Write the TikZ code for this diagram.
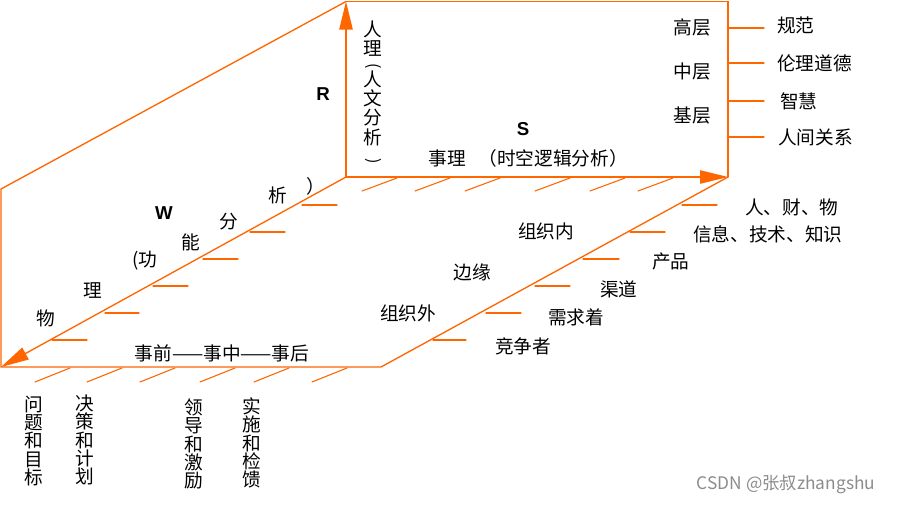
\documentclass[tikz,border=0pt]{standalone}
\usepackage{fontspec}
\setmainfont{Noto Sans CJK SC}
\newfontfamily\axisfont{Liberation Sans}
\usetikzlibrary{arrows.meta}
\definecolor{frameor}{RGB}{255,102,0}
\begin{document}
\begin{tikzpicture}[x=0.75pt,y=-0.75pt,>={Triangle[length=21pt,width=10pt]},line cap=round,
  frame/.style={draw=frameor,line width=1pt},
  hatch/.style={draw=frameor,line width=0.8pt},
  lbl/.style={inner sep=0pt,font=\fontsize{14pt}{14pt}\selectfont},
  vlbl/.style={inner sep=0pt,align=center,font=\fontsize{14pt}{13.8pt}\selectfont},
  vparen/.style={inner sep=0pt,font=\fontsize{12pt}{12pt}\selectfont},
  axis/.style={inner sep=0pt,font=\axisfont\bfseries\fontsize{14pt}{14pt}\selectfont}]
\useasboundingbox (0,0) rectangle (899,504);
\coordinate (o) at (346,177);
\coordinate (a) at (346,1.5);
\coordinate (b) at (728,1.5);
\coordinate (c) at (728,177);
\coordinate (l) at (1,189);
\coordinate (p) at (1,367);
\coordinate (q) at (381,367);
\draw[frame] (a) -- (b) -- (c);
\draw[frame] (a) -- (l) -- (p) -- (q) -- (c);
\draw[frame,->] (o) -- (a);
\draw[frame,->] (o) -- (c);
\draw[frame,->] (o) -- (p);
\draw[hatch] (397,178) -- (362,191);
\draw[hatch] (450,178) -- (415,191);
\draw[hatch] (500,178) -- (465,191);
\draw[hatch] (570,178) -- (535,191);
\draw[hatch] (625,178) -- (590,191);
\draw[hatch] (673,178) -- (638,191);
\draw[hatch] (70,368) -- (35,382);
\draw[hatch] (122,368) -- (87,382);
\draw[hatch] (175,368) -- (140,382);
\draw[hatch] (235,368) -- (200,382);
\draw[hatch] (289,368) -- (254,382);
\draw[hatch] (347,368) -- (312,382);
\draw[hatch] (302,205) -- (337,205);
\draw[hatch] (250,232) -- (285,232);
\draw[hatch] (203,259) -- (238,259);
\draw[hatch] (153,286) -- (188,286);
\draw[hatch] (105,313) -- (139,313);
\draw[hatch] (52,340) -- (87,340);
\draw[hatch] (682,205) -- (717,205);
\draw[hatch] (630,232) -- (665,232);
\draw[hatch] (583,259) -- (619,259);
\draw[hatch] (535,286) -- (570,286);
\draw[hatch] (486,313) -- (521,313);
\draw[hatch] (433,340) -- (466,340);
\draw[hatch] (729,28) -- (764,28);
\draw[hatch] (729,63) -- (764,63);
\draw[hatch] (729,101) -- (764,101);
\draw[hatch] (729,137) -- (764,137);
\node[axis] (rlab) at (323,94) {R};
\node[axis] (slab) at (523,129) {S};
\node[axis] (wlab) at (164,213) {W};
\node[vlbl,font=\fontsize{14pt}{14.25pt}\selectfont] (renli) at (373,38.5) {人\\理};
\node[vparen,rotate=-90] (zuokuo) at (373,66) {(};
\node[vlbl,font=\fontsize{14pt}{14.5pt}\selectfont] (renwen) at (373,108) {人\\文\\分\\析};
\node[vparen,rotate=-90] (youkuo) at (373,161) {)};
\node[lbl] (shili) at (447,158) {事理};
\node[lbl] (shikong) at (553,158) {（时空逻辑分析）};
\node[lbl] (gaoceng) at (692,27) {高层};
\node[lbl] (zhongceng) at (692,71) {中层};
\node[lbl] (jiceng) at (692,115) {基层};
\node[lbl,anchor=west] (guifan) at (777,25) {规范};
\node[lbl,anchor=west] (lunli) at (777,63) {伦理道德};
\node[lbl,anchor=west] (zhihui) at (780,101) {智慧};
\node[lbl,anchor=west] (renjian) at (778,137) {人间关系};
\node[lbl,anchor=west] (rencai) at (745,207) {人、财、物};
\node[lbl,anchor=west] (xinxi) at (693,234) {信息、技术、知识};
\node[lbl,anchor=west] (chanpin) at (652,261) {产品};
\node[lbl,anchor=west] (qudao) at (600,289) {渠道};
\node[lbl,anchor=west] (xuqiu) at (548,317) {需求着};
\node[lbl,anchor=west] (jingzheng) at (495,346) {竞争者};
\node[lbl] (zuzhinei) at (546,231) {组织内};
\node[lbl] (bianyuan) at (472,272) {边缘};
\node[lbl] (zuzhiwai) at (408,313) {组织外};
\node[lbl] (shiqian) at (222,353) {事前——事中——事后};
\node[lbl] (wu) at (46,318) {物};
\node[lbl] (li) at (93,291) {理};
\node[lbl] (gong) at (145,261) {(功};
\node[lbl] (neng) at (191,242) {能};
\node[lbl] (fen) at (229,222) {分};
\node[lbl] (xi) at (278,195) {析};
\node[lbl] (xikuo) at (316,186) {）};
\node[vlbl] (wenti) at (34,441) {问\\题\\和\\目\\标};
\node[vlbl] (juece) at (85,440) {决\\策\\和\\计\\划};
\node[vlbl] (lingdao) at (194,444) {领\\导\\和\\激\\励};
\node[vlbl] (shishi) at (252,443) {实\\施\\和\\检\\馈};
\node[inner sep=0pt,text=black!45,font=\fontsize{13pt}{13pt}\selectfont] (csdn) at (786,484) {CSDN @张叔zhangshu};
\end{tikzpicture}
\end{document}
